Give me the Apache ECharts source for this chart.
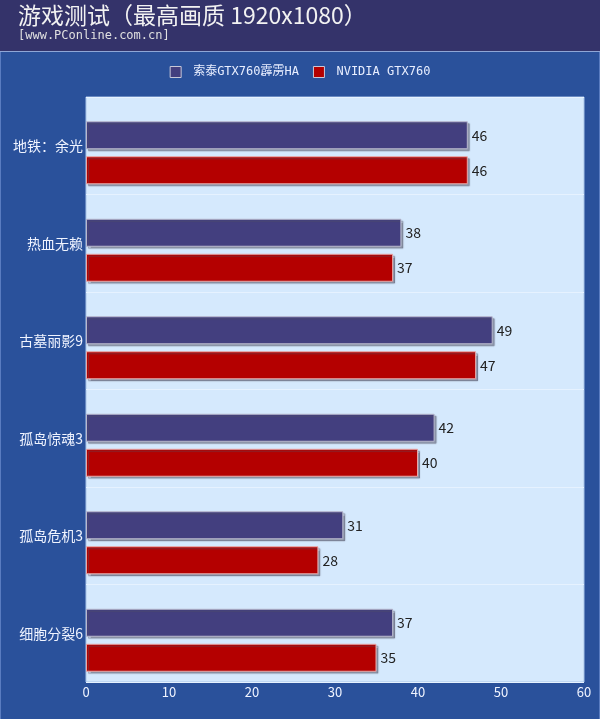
<!DOCTYPE html>
<html><head><meta charset="utf-8">
<script src="https://cdn.jsdelivr.net/npm/echarts@6/dist/echarts.min.js"></script>
<style>html,body{margin:0;padding:0;background:#2a519b}#c{width:600px;height:719px}</style>
</head><body><div id="c"></div>
<script>
const categories = ['地铁：余光','热血无赖','古墓丽影9','孤岛惊魂3','孤岛危机3','细胞分裂6'];
const seriesNames = ['索泰GTX760霹雳HA','NVIDIA GTX760'];
const zotac = [46,38,49,42,31,37];
const nvidia = [46,37,47,40,28,35];
const xTicks = [0,10,20,30,40,50,60];

const chart = echarts.init(document.getElementById('c'));
const font = '"Noto Sans CJK SC", "Noto Sans", sans-serif';
const mono = '"DejaVu Sans Mono", "Noto Sans CJK SC", monospace';
const labelStyle = {show:true, position:'right', distance:4, color:'#222', fontSize:14, fontFamily: font};
const shadow = {shadowColor:'rgba(80,80,100,0.5)', shadowOffsetX:2, shadowOffsetY:2, shadowBlur:1};
chart.setOption({
  backgroundColor: '#2a519b',
  animation: false,
  graphic: [
    {type:'rect', left:0, top:0, shape:{width:600, height:51}, style:{fill:'#34336a'}, z:-1},
    {type:'rect', left:0, top:51, shape:{width:600, height:1}, style:{fill:'#8fa6d6'}, z:-1},
    {type:'rect', left:0, top:52, shape:{width:1, height:667}, style:{fill:'#5a7cc0'}, z:-1},
    {type:'rect', right:0, top:52, shape:{width:1, height:667}, style:{fill:'#5a7cc0'}, z:-1},
    {type:'text', left:18, top:4, style:{text:'游戏测试（最高画质 1920x1080）', fill:'#f2f2f2', font:'23px ' + font}},
    {type:'text', left:18, top:30, style:{text:'[www.PConline.com.cn]', fill:'#e0e0e0', font:'12px "DejaVu Sans Mono", monospace'}}
  ],
  legend: {
    top: 61, left: 'center',
    itemWidth: 11, itemHeight: 11, itemGap: 14,
    textStyle: {color:'#e8eeff', fontSize:12, fontFamily: mono, padding:[0,0,0,7]},
    data: seriesNames.map(n => ({name:n, icon:'rect'})),
    itemStyle: {borderColor:'#c8c8d8', borderWidth:1}
  },
  grid: [
    {left:86, top:97, width:498, height:585, show:true, backgroundColor:'#d5e9fd', borderColor:'#a8c4e8', borderWidth:1},
    {left:86, top:104, width:498, height:585, show:false}
  ],
  xAxis: [
    {type:'value', gridIndex:0, min:0, max:60, interval:10,
      axisLine:{show:false}, axisTick:{show:false}, splitLine:{show:false},
      axisLabel:{color:'#f0f4ff', fontSize:13, fontFamily: font, margin:4,
        formatter: v => xTicks.includes(v) ? String(v) : ''}},
    {type:'value', gridIndex:1, min:0, max:60, interval:10, show:false}
  ],
  yAxis: [
    {type:'category', gridIndex:0, data: categories, inverse:true,
      axisLine:{show:false}, axisTick:{show:false},
      splitLine:{show:true, lineStyle:{color:'#e6f2ff', width:1}},
      axisLabel:{color:'#f0f4ff', fontSize:14, fontFamily: font, margin:3}},
    {type:'category', gridIndex:1, data: categories, inverse:true, show:false}
  ],
  series: [
    {name: seriesNames[0], type:'bar', xAxisIndex:1, yAxisIndex:1, data: zotac, barWidth:28, barGap:'25%',
      itemStyle:Object.assign({color:'#433f7f', borderColor:'#b8b8cc', borderWidth:1}, shadow),
      label:labelStyle},
    {name: seriesNames[1], type:'bar', xAxisIndex:1, yAxisIndex:1, data: nvidia, barWidth:28,
      itemStyle:Object.assign({color:'#b40000', borderColor:'#e8a8a8', borderWidth:1}, shadow),
      label:labelStyle}
  ]
});
</script></body></html>
